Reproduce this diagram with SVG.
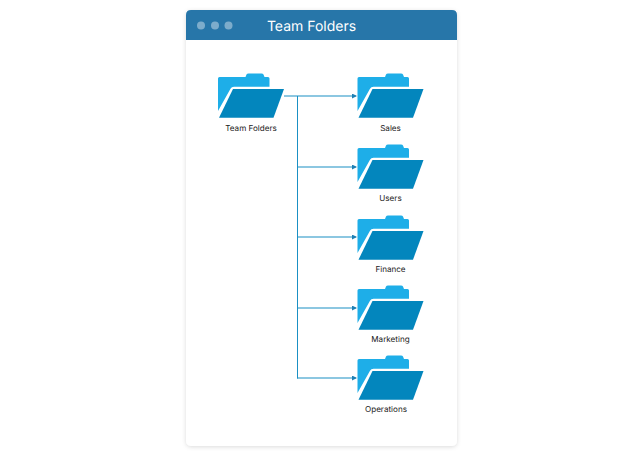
<svg xmlns="http://www.w3.org/2000/svg" width="644" height="456" viewBox="0 0 644 456">
<defs>
<filter id="sh" x="-5%" y="-5%" width="110%" height="110%"><feDropShadow dx="0" dy="1" stdDeviation="2" flood-color="#000" flood-opacity="0.14"/></filter>
<marker id="arr" markerWidth="5" markerHeight="5" refX="4" refY="2.5" orient="auto" markerUnits="userSpaceOnUse"><path d="M0,0 L5,2.500 L0,5 Z" fill="#1f80b4"/></marker>
<g id="folder">
<path d="M0,38 V5.500 Q0,4 1.500,4 H27.500 L28.500,1.500 Q29,0.500 30.500,0.500 H43.500 Q45,0.500 45.500,1.500 L46.500,4 H50 Q51.500,4 51.500,5.500 V13.800 H16 Q13.500,13.800 12.500,15.800 Z" fill="#1eaee8"/>
<path d="M1,44.700 L15,16 H66 L55.500,44.700 Z" fill="#0386bd"/>
</g>
</defs>
<style>
text{text-rendering:geometricPrecision}
.lbl{font:8.100px Inter,"Liberation Sans",sans-serif;fill:#1b1b1b;text-anchor:middle}
.h{fill:none;stroke:#1a90c4;stroke-width:1.100}
.v{fill:none;stroke:#1a90c4;stroke-width:1}
.dot{fill:#fff;fill-opacity:.4}
</style>
<rect width="644" height="456" fill="#fff"/>
<g id="window">
<rect x="186" y="10" width="271" height="436" rx="5" fill="#fff" filter="url(#sh)"/>
<path d="M186,40 V15 Q186,10 191,10 H452 Q457,10 457,15 V40 Z" fill="#2776a9"/>
<circle class="dot" cx="201" cy="25.500" r="4"/><circle class="dot" cx="215" cy="25.500" r="4"/><circle class="dot" cx="228.500" cy="25.500" r="4"/>
<text x="311.500" y="31" font-family="Inter,'Liberation Sans',sans-serif" font-size="14" fill="#fff" text-anchor="middle">Team Folders</text>
</g>
<g id="connectors">
<path class="h" d="M284,96 H356" marker-end="url(#arr)"/>
<path class="v" d="M297.500,96 V378.500"/>
<path class="h" d="M297.500,167 H356" marker-end="url(#arr)"/>
<path class="h" d="M297.500,237 H356" marker-end="url(#arr)"/>
<path class="h" d="M297.500,308 H356" marker-end="url(#arr)"/>
<path class="h" d="M297,378 H356" marker-end="url(#arr)"/>
</g>
<g id="node-root"><use href="#folder" x="218" y="73"/><text class="lbl" x="251" y="131">Team Folders</text></g>
<g id="node-sales"><use href="#folder" x="357.500" y="73"/><text class="lbl" x="390.500" y="131">Sales</text></g>
<g id="node-users"><use href="#folder" x="357.500" y="144"/><text class="lbl" x="390.500" y="201">Users</text></g>
<g id="node-finance"><use href="#folder" x="357.500" y="215"/><text class="lbl" x="390.500" y="272">Finance</text></g>
<g id="node-marketing"><use href="#folder" x="357.500" y="285"/><text class="lbl" x="390.500" y="342">Marketing</text></g>
<g id="node-operations"><use href="#folder" x="357.500" y="355"/><text class="lbl" x="386" y="412">Operations</text></g>
</svg>
